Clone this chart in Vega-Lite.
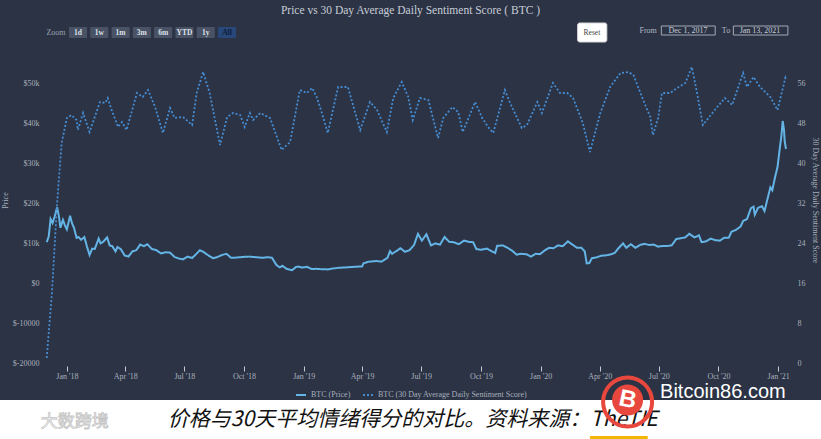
{
"$schema": "https://vega.github.io/schema/vega-lite/v6.json",
"width": 821,
"height": 400,
"autosize": {"type": "none"},
"padding": {"left": 0, "top": 0, "right": 0, "bottom": 39},
"background": "#ffffff",
"config": {"view": {"fill": "#2b3345", "stroke": null}},
"title": {"text": "Price vs 30 Day Average Daily Sentiment Score ( BTC )", "anchor": "middle", "frame": "group", "offset": -16, "font": "Liberation Serif", "fontSize": 11.5, "fontWeight": "normal", "color": "#c8cdd6"},
"datasets": {
"price": [
{"date":"2017-12-01","price":10200},{"date":"2017-12-04","price":11600},{"date":"2017-12-07","price":16000},{"date":"2017-12-10","price":15000},{"date":"2017-12-13","price":16500},{"date":"2017-12-17","price":18900},{"date":"2017-12-20","price":16500},{"date":"2017-12-22","price":13800},{"date":"2017-12-26","price":15800},{"date":"2017-12-29","price":14400},
{"date":"2018-01-01","price":13400},{"date":"2018-01-06","price":16800},{"date":"2018-01-09","price":14900},{"date":"2018-01-12","price":13800},{"date":"2018-01-16","price":11300},{"date":"2018-01-19","price":11500},{"date":"2018-01-23","price":10800},{"date":"2018-01-28","price":11500},
{"date":"2018-02-01","price":9100},{"date":"2018-02-05","price":7000},{"date":"2018-02-09","price":8600},{"date":"2018-02-13","price":8500},{"date":"2018-02-19","price":11100},{"date":"2018-02-22","price":9900},{"date":"2018-02-26","price":10300},
{"date":"2018-03-04","price":11400},{"date":"2018-03-08","price":9400},{"date":"2018-03-12","price":9200},{"date":"2018-03-17","price":7900},{"date":"2018-03-20","price":9000},{"date":"2018-03-25","price":8500},{"date":"2018-03-31","price":6900},
{"date":"2018-04-06","price":6600},{"date":"2018-04-12","price":7900},{"date":"2018-04-18","price":8200},{"date":"2018-04-24","price":9600},{"date":"2018-04-30","price":9200},
{"date":"2018-05-05","price":9700},{"date":"2018-05-12","price":8500},{"date":"2018-05-19","price":8200},{"date":"2018-05-26","price":7400},
{"date":"2018-06-02","price":7700},{"date":"2018-06-09","price":7600},{"date":"2018-06-16","price":6500},{"date":"2018-06-23","price":6100},{"date":"2018-06-29","price":5900},
{"date":"2018-07-06","price":6600},{"date":"2018-07-13","price":6250},{"date":"2018-07-20","price":7350},{"date":"2018-07-25","price":8200},{"date":"2018-07-31","price":7700},
{"date":"2018-08-07","price":6900},{"date":"2018-08-14","price":6200},{"date":"2018-08-21","price":6500},{"date":"2018-08-28","price":7000},
{"date":"2018-09-04","price":7300},{"date":"2018-09-11","price":6300},{"date":"2018-09-18","price":6350},{"date":"2018-09-25","price":6450},
{"date":"2018-10-02","price":6550},{"date":"2018-10-09","price":6600},{"date":"2018-10-16","price":6500},{"date":"2018-10-23","price":6400},{"date":"2018-10-30","price":6300},
{"date":"2018-11-06","price":6450},{"date":"2018-11-13","price":6300},{"date":"2018-11-20","price":4500},{"date":"2018-11-25","price":3900},{"date":"2018-11-29","price":4300},
{"date":"2018-12-06","price":3500},{"date":"2018-12-14","price":3200},{"date":"2018-12-20","price":4000},{"date":"2018-12-24","price":4100},{"date":"2018-12-30","price":3850},
{"date":"2019-01-06","price":4050},{"date":"2019-01-13","price":3500},{"date":"2019-01-20","price":3550},{"date":"2019-01-28","price":3450},
{"date":"2019-02-07","price":3400},{"date":"2019-02-14","price":3600},{"date":"2019-02-24","price":3800},
{"date":"2019-03-07","price":3900},{"date":"2019-03-20","price":4050},{"date":"2019-04-01","price":4150},{"date":"2019-04-03","price":4900},{"date":"2019-04-10","price":5300},{"date":"2019-04-23","price":5500},
{"date":"2019-05-01","price":5350},{"date":"2019-05-10","price":6300},{"date":"2019-05-14","price":8000},{"date":"2019-05-17","price":7300},{"date":"2019-05-24","price":8000},{"date":"2019-05-30","price":8700},
{"date":"2019-06-06","price":7800},{"date":"2019-06-13","price":8200},{"date":"2019-06-20","price":9500},{"date":"2019-06-26","price":12300},
{"date":"2019-07-02","price":10600},{"date":"2019-07-09","price":12200},{"date":"2019-07-16","price":9400},{"date":"2019-07-23","price":9900},{"date":"2019-07-30","price":9600},
{"date":"2019-08-06","price":11500},{"date":"2019-08-13","price":10300},{"date":"2019-08-20","price":10200},{"date":"2019-08-28","price":9700},
{"date":"2019-09-05","price":10600},{"date":"2019-09-12","price":10300},{"date":"2019-09-19","price":10200},{"date":"2019-09-24","price":8500},
{"date":"2019-10-01","price":8300},{"date":"2019-10-10","price":8600},{"date":"2019-10-17","price":8000},{"date":"2019-10-23","price":7500},{"date":"2019-10-26","price":9300},
{"date":"2019-11-04","price":9400},{"date":"2019-11-11","price":8800},{"date":"2019-11-18","price":8100},{"date":"2019-11-25","price":7100},
{"date":"2019-12-02","price":7300},{"date":"2019-12-10","price":7200},{"date":"2019-12-17","price":6600},{"date":"2019-12-24","price":7300},{"date":"2019-12-31","price":7200},
{"date":"2020-01-07","price":8100},{"date":"2020-01-14","price":8800},{"date":"2020-01-21","price":8700},{"date":"2020-01-28","price":9400},
{"date":"2020-02-04","price":9200},{"date":"2020-02-12","price":10400},{"date":"2020-02-19","price":9600},{"date":"2020-02-26","price":8800},
{"date":"2020-03-04","price":8800},{"date":"2020-03-09","price":7900},{"date":"2020-03-12","price":4900},{"date":"2020-03-16","price":5000},{"date":"2020-03-20","price":6200},{"date":"2020-03-27","price":6400},
{"date":"2020-04-03","price":6800},{"date":"2020-04-10","price":6900},{"date":"2020-04-17","price":7100},{"date":"2020-04-24","price":7500},{"date":"2020-04-30","price":8700},
{"date":"2020-05-07","price":9900},{"date":"2020-05-12","price":8800},{"date":"2020-05-19","price":9700},{"date":"2020-05-26","price":8800},
{"date":"2020-06-02","price":9500},{"date":"2020-06-09","price":9800},{"date":"2020-06-16","price":9500},{"date":"2020-06-23","price":9600},{"date":"2020-06-30","price":9100},
{"date":"2020-07-07","price":9250},{"date":"2020-07-14","price":9250},{"date":"2020-07-21","price":9400},{"date":"2020-07-28","price":11000},
{"date":"2020-08-04","price":11200},{"date":"2020-08-11","price":11400},{"date":"2020-08-17","price":12300},{"date":"2020-08-25","price":11400},
{"date":"2020-09-01","price":11900},{"date":"2020-09-05","price":10200},{"date":"2020-09-12","price":10400},{"date":"2020-09-19","price":11100},{"date":"2020-09-26","price":10700},
{"date":"2020-10-03","price":10600},{"date":"2020-10-10","price":11300},{"date":"2020-10-17","price":11350},{"date":"2020-10-21","price":12800},{"date":"2020-10-28","price":13300},
{"date":"2020-11-04","price":14100},{"date":"2020-11-08","price":15500},{"date":"2020-11-14","price":16000},{"date":"2020-11-20","price":18700},{"date":"2020-11-24","price":19100},{"date":"2020-11-26","price":17100},
{"date":"2020-12-01","price":18800},{"date":"2020-12-07","price":19200},{"date":"2020-12-11","price":18000},{"date":"2020-12-16","price":21300},{"date":"2020-12-20","price":23900},{"date":"2020-12-23","price":23200},{"date":"2020-12-27","price":26300},{"date":"2020-12-31","price":29000},
{"date":"2021-01-03","price":33000},{"date":"2021-01-06","price":36800},{"date":"2021-01-08","price":40500},{"date":"2021-01-10","price":38300},{"date":"2021-01-11","price":35500},{"date":"2021-01-12","price":34500},{"date":"2021-01-13","price":33500}
],
"senti": [
{"date":"2017-12-01","score":1},{"date":"2017-12-09","score":14},{"date":"2017-12-17","score":32},{"date":"2017-12-24","score":44},{"date":"2018-01-01","score":49},
{"date":"2018-01-08","score":49.6},{"date":"2018-01-16","score":48.6},{"date":"2018-01-18","score":46.6},{"date":"2018-01-26","score":50},{"date":"2018-02-05","score":46.2},
{"date":"2018-02-21","score":52.2},{"date":"2018-03-01","score":52},{"date":"2018-03-05","score":53},{"date":"2018-03-11","score":50.6},{"date":"2018-03-21","score":47.2},
{"date":"2018-03-27","score":48.2},{"date":"2018-04-03","score":46.6},{"date":"2018-04-19","score":54},{"date":"2018-04-28","score":53.2},{"date":"2018-05-06","score":54.6},
{"date":"2018-05-17","score":51.2},{"date":"2018-05-29","score":46},{"date":"2018-06-09","score":51},{"date":"2018-06-16","score":49},{"date":"2018-06-29","score":49.2},
{"date":"2018-07-13","score":47.6},{"date":"2018-07-20","score":54},{"date":"2018-07-30","score":58.2},{"date":"2018-08-09","score":54},{"date":"2018-08-25","score":43.6},
{"date":"2018-09-05","score":49.2},{"date":"2018-09-14","score":50},{"date":"2018-09-25","score":49.6},{"date":"2018-10-02","score":47.2},{"date":"2018-10-10","score":50},
{"date":"2018-10-15","score":48.6},{"date":"2018-10-26","score":50},{"date":"2018-11-10","score":49},{"date":"2018-11-28","score":42.6},{"date":"2018-12-06","score":43.6},
{"date":"2018-12-11","score":44.2},{"date":"2018-12-26","score":54.6},{"date":"2019-01-06","score":54},{"date":"2019-01-14","score":55},{"date":"2019-01-21","score":53.2},
{"date":"2019-01-29","score":50},{"date":"2019-02-07","score":46},{"date":"2019-02-23","score":55.2},{"date":"2019-03-10","score":55.2},{"date":"2019-03-21","score":50.2},
{"date":"2019-03-29","score":46.6},{"date":"2019-04-13","score":52.2},{"date":"2019-04-24","score":50.6},{"date":"2019-05-09","score":46.2},{"date":"2019-05-19","score":53},
{"date":"2019-06-01","score":56.2},{"date":"2019-06-11","score":53.2},{"date":"2019-06-18","score":48.6},{"date":"2019-06-29","score":53},{"date":"2019-07-12","score":52.6},
{"date":"2019-07-27","score":45},{"date":"2019-08-04","score":49},{"date":"2019-08-18","score":51.2},{"date":"2019-08-27","score":50.2},{"date":"2019-09-03","score":46.2},
{"date":"2019-09-22","score":52.2},{"date":"2019-10-03","score":49},{"date":"2019-10-12","score":47.2},{"date":"2019-10-20","score":46},{"date":"2019-11-07","score":54.6},
{"date":"2019-11-15","score":52},{"date":"2019-12-03","score":47},{"date":"2019-12-11","score":47.6},{"date":"2019-12-27","score":52.2},{"date":"2020-01-03","score":50},
{"date":"2020-01-20","score":56},{"date":"2020-01-31","score":54},{"date":"2020-02-11","score":54},{"date":"2020-02-20","score":53},{"date":"2020-03-06","score":48},
{"date":"2020-03-17","score":42.2},{"date":"2020-04-02","score":50},{"date":"2020-04-17","score":55.2},{"date":"2020-05-03","score":58},{"date":"2020-05-15","score":58.2},
{"date":"2020-05-23","score":57.6},{"date":"2020-06-07","score":52.6},{"date":"2020-06-18","score":49.2},{"date":"2020-06-22","score":45.6},{"date":"2020-06-30","score":49},
{"date":"2020-07-06","score":54},{"date":"2020-07-19","score":54},{"date":"2020-07-29","score":55},{"date":"2020-08-11","score":56},{"date":"2020-08-21","score":59.2},
{"date":"2020-08-29","score":54},{"date":"2020-09-07","score":47.6},{"date":"2020-09-29","score":51.2},{"date":"2020-10-11","score":53},{"date":"2020-10-22","score":51.6},
{"date":"2020-11-08","score":58},{"date":"2020-11-14","score":55.2},{"date":"2020-11-24","score":57.2},{"date":"2020-12-04","score":55.2},{"date":"2020-12-20","score":53.2},
{"date":"2020-12-31","score":50.6},{"date":"2021-01-12","score":57},{"date":"2021-01-13","score":56.6}
],
"buttons": [{"label":"1d"},{"label":"1w"},{"label":"1m"},{"label":"3m"},{"label":"6m"},{"label":"YTD"},{"label":"1y"},{"label":"All"}]
},
"layer": [
{
"layer": [
{
"layer": [
{
"data": {"name": "price"},
"mark": {"type": "line", "strokeWidth": 2},
"encoding": {
"x": {"field": "date", "type": "temporal", "scale": {"type": "utc", "domain": [{"year":2017,"month":9,"date":20,"utc":true},{"year":2021,"month":3,"date":8,"utc":true}]},
"axis": {"orient": "bottom", "offset": -34, "title": null, "format": "%b '%y", "values": [{"year":2018,"month":1,"date":1,"utc":true},{"year":2018,"month":4,"date":1,"utc":true},{"year":2018,"month":7,"date":1,"utc":true},{"year":2018,"month":10,"date":1,"utc":true},{"year":2019,"month":1,"date":1,"utc":true},{"year":2019,"month":4,"date":1,"utc":true},{"year":2019,"month":7,"date":1,"utc":true},{"year":2019,"month":10,"date":1,"utc":true},{"year":2020,"month":1,"date":1,"utc":true},{"year":2020,"month":4,"date":1,"utc":true},{"year":2020,"month":7,"date":1,"utc":true},{"year":2020,"month":10,"date":1,"utc":true},{"year":2021,"month":1,"date":1,"utc":true}],
"domain": false, "grid": false, "ticks": true, "tickSize": 5, "tickColor": "#c5cbd6", "tickWidth": 1, "labelPadding": 1, "labelFont": "Liberation Serif", "labelFontSize": 8, "labelColor": "#a9b0bc", "labelFlush": false}},
"y": {"field": "price", "type": "quantitative", "scale": {"domain": [-29250, 70750], "nice": false, "zero": false},
"axis": {"orient": "left", "offset": -47, "values": [-20000,-10000,0,10000,20000,30000,40000,50000], "labelExpr": "datum.value > 0 ? '$' + datum.value/1000 + 'k' : '$' + datum.value", "domain": false, "ticks": false, "grid": false, "labelPadding": 8, "labelFont": "Liberation Serif", "labelFontSize": 8, "labelColor": "#a9b0bc", "title": "Price", "titleFont": "Liberation Serif", "titleFontSize": 8, "titleFontWeight": "normal", "titleColor": "#a9b0bc", "titlePadding": 3}},
"color": {"datum": "BTC (Price)", "type": "nominal", "scale": {"domain": ["BTC (Price)", "BTC (30 Day Average Daily Sentiment Score)"], "range": ["#64b4e6", "#468cd2"]},
"legend": {"title": null, "orient": "none", "legendX": 295, "legendY": 389, "direction": "horizontal", "symbolType": "stroke", "symbolStrokeWidth": 2, "symbolSize": 100, "labelFont": "Liberation Serif", "labelFontSize": 8, "labelColor": "#a9b0bc", "columnPadding": 8, "padding": 0}},
"strokeDash": {"datum": "BTC (Price)", "type": "nominal", "scale": {"domain": ["BTC (Price)", "BTC (30 Day Average Daily Sentiment Score)"], "range": [[1,0],[2,2]]},
"legend": {"title": null, "orient": "none", "legendX": 295, "legendY": 389, "direction": "horizontal", "symbolType": "stroke", "symbolStrokeWidth": 2, "symbolSize": 100, "labelFont": "Liberation Serif", "labelFontSize": 8, "labelColor": "#a9b0bc", "columnPadding": 8, "padding": 0}}
}
},
{
"data": {"values": [{"t": "Zoom"}]},
"mark": {"type": "text", "align": "right", "baseline": "middle", "font": "Liberation Serif", "fontSize": 8, "color": "#9da4b0"},
"encoding": {"x": {"datum": {"year":2017,"month":12,"date":30,"utc":true}, "type": "temporal"}, "y": {"datum": 62625, "type": "quantitative"}, "text": {"field": "t"}}
},
{
"data": {"values": [{}]},
"mark": {"type": "rect", "fill": "#ffffff", "stroke": "#d8d8d8", "cornerRadius": 2},
"encoding": {"x": {"datum": {"year":2020,"month":2,"date":27,"utc":true}, "type": "temporal"}, "x2": {"datum": {"year":2020,"month":4,"date":12,"utc":true}}, "y": {"datum": 65000, "type": "quantitative"}, "y2": {"datum": 60250}}
},
{
"data": {"values": [{"t": "Reset"}]},
"mark": {"type": "text", "align": "center", "baseline": "middle", "font": "Liberation Serif", "fontSize": 7.5, "color": "#444444"},
"encoding": {"x": {"datum": {"year":2020,"month":3,"date":20,"utc":true}, "type": "temporal"}, "y": {"datum": 62625, "type": "quantitative"}, "text": {"field": "t"}}
},
{
"data": {"values": [{"t": "From"}]},
"mark": {"type": "text", "align": "right", "baseline": "middle", "font": "Liberation Serif", "fontSize": 8, "color": "#b4bac5"},
"encoding": {"x": {"datum": {"year":2020,"month":6,"date":28,"utc":true}, "type": "temporal"}, "y": {"datum": 63125, "type": "quantitative"}, "text": {"field": "t"}}
},
{
"data": {"values": [{}]},
"mark": {"type": "rect", "fill": null, "fillOpacity": 0, "stroke": "#a3a9b4", "strokeWidth": 1},
"encoding": {"x": {"datum": {"year":2020,"month":7,"date":5,"utc":true}, "type": "temporal"}, "x2": {"datum": {"year":2020,"month":9,"date":26,"utc":true}}, "y": {"datum": 64250, "type": "quantitative"}, "y2": {"datum": 62000}}
},
{
"data": {"values": [{"t": "Dec 1, 2017"}]},
"mark": {"type": "text", "align": "center", "baseline": "middle", "font": "Liberation Serif", "fontSize": 8, "color": "#c8cdd6"},
"encoding": {"x": {"datum": {"year":2020,"month":8,"date":15,"utc":true}, "type": "temporal"}, "y": {"datum": 63125, "type": "quantitative"}, "text": {"field": "t"}}
},
{
"data": {"values": [{"t": "To"}]},
"mark": {"type": "text", "align": "right", "baseline": "middle", "font": "Liberation Serif", "fontSize": 8, "color": "#b4bac5"},
"encoding": {"x": {"datum": {"year":2020,"month":10,"date":19,"utc":true}, "type": "temporal"}, "y": {"datum": 63125, "type": "quantitative"}, "text": {"field": "t"}}
},
{
"data": {"values": [{}]},
"mark": {"type": "rect", "fill": null, "fillOpacity": 0, "stroke": "#a3a9b4", "strokeWidth": 1},
"encoding": {"x": {"datum": {"year":2020,"month":10,"date":24,"utc":true}, "type": "temporal"}, "x2": {"datum": {"year":2021,"month":1,"date":16,"utc":true}}, "y": {"datum": 64250, "type": "quantitative"}, "y2": {"datum": 62000}}
},
{
"data": {"values": [{"t": "Jan 13, 2021"}]},
"mark": {"type": "text", "align": "center", "baseline": "middle", "font": "Liberation Serif", "fontSize": 8, "color": "#c8cdd6"},
"encoding": {"x": {"datum": {"year":2020,"month":12,"date":4,"utc":true}, "type": "temporal"}, "y": {"datum": 63125, "type": "quantitative"}, "text": {"field": "t"}}
},
{
"data": {"values": [{"t": "价格与30天平均情绪得分的对比。资料来源：TheTIE"}]},
"mark": {"type": "text", "align": "center", "baseline": "middle", "font": "Noto Sans CJK SC", "fontSize": 21, "fontStyle": "italic", "color": "#111111"},
"encoding": {"x": {"datum": {"year":2019,"month":6,"date":18,"utc":true}, "type": "temporal"}, "y": {"datum": -34250, "type": "quantitative"}, "text": {"field": "t"}}
},
{
"data": {"values": [{}]},
"mark": {"type": "rule", "color": "#f2b705", "strokeWidth": 3},
"encoding": {"x": {"datum": {"year":2020,"month":3,"date":17,"utc":true}, "type": "temporal"}, "x2": {"datum": {"year":2020,"month":6,"date":14,"utc":true}}, "y": {"datum": -38625, "type": "quantitative"}}
},
{
"data": {"values": [{"t": "大数跨境"}]},
"mark": {"type": "text", "align": "center", "baseline": "middle", "font": "Noto Sans CJK SC", "fontSize": 17, "fill": "#ffffff", "stroke": "#c4c4c4", "strokeWidth": 0.8},
"encoding": {"x": {"datum": {"year":2018,"month":1,"date":13,"utc":true}, "type": "temporal"}, "y": {"datum": -34750, "type": "quantitative"}, "text": {"field": "t"}}
},
{
"data": {"values": [{"t": "Bitcoin86.com"}]},
"mark": {"type": "text", "align": "left", "baseline": "middle", "font": "Liberation Sans", "fontSize": 20, "color": "#ffffff"},
"encoding": {"x": {"datum": {"year":2020,"month":7,"date":3,"utc":true}, "type": "temporal"}, "y": {"datum": -27250, "type": "quantitative"}, "text": {"field": "t"}}
},
{
"data": {"values": [{}]},
"mark": {"type": "point", "shape": "circle", "size": 2400, "filled": false, "stroke": "#e8473d", "strokeWidth": 4, "opacity": 1},
"encoding": {"x": {"datum": {"year":2020,"month":5,"date":14,"utc":true}, "type": "temporal"}, "y": {"datum": -29750, "type": "quantitative"}}
},
{
"data": {"values": [{}]},
"mark": {"type": "point", "shape": "circle", "size": 960, "filled": true, "fill": "#e8473d", "opacity": 1},
"encoding": {"x": {"datum": {"year":2020,"month":5,"date":14,"utc":true}, "type": "temporal"}, "y": {"datum": -29250, "type": "quantitative"}}
},
{
"data": {"values": [{"t": "B"}]},
"mark": {"type": "text", "align": "center", "baseline": "middle", "font": "Liberation Sans", "fontSize": 24, "fontWeight": "bold", "color": "#ffffff", "angle": 12},
"encoding": {"x": {"datum": {"year":2020,"month":5,"date":14,"utc":true}, "type": "temporal"}, "y": {"datum": -29250, "type": "quantitative"}, "text": {"field": "t"}}
}
]
},
{
"data": {"name": "buttons"},
"layer": [
{
"mark": {"type": "rect", "cornerRadius": 1},
"encoding": {
"x": {"field": "label", "type": "nominal", "scale": {"type": "band", "domain": ["1d","1w","1m","3m","6m","YTD","1y","All"], "range": [69, 236], "paddingInner": 0.15, "paddingOuter": 0}, "axis": null},
"y": {"datum": 64000, "type": "quantitative"},
"y2": {"datum": 61250},
"fill": {"condition": {"test": "datum.label === 'All'", "value": "#28477a"}, "value": "#4a5366"}
}
},
{
"mark": {"type": "text", "font": "Liberation Serif", "fontSize": 7.5, "fontWeight": "bold", "baseline": "middle", "align": "center"},
"encoding": {
"x": {"field": "label", "type": "nominal", "scale": {"type": "band", "domain": ["1d","1w","1m","3m","6m","YTD","1y","All"], "range": [69, 236], "paddingInner": 0.15, "paddingOuter": 0}, "axis": null},
"y": {"datum": 62625, "type": "quantitative"},
"text": {"field": "label"},
"color": {"condition": {"test": "datum.label === 'All'", "value": "#0d1d36"}, "value": "#dde1e8"}
}
}
]
}
],
"resolve": {"scale": {"x": "independent"}}
},
{
"data": {"name": "senti"},
"mark": {"type": "line", "strokeWidth": 1.8},
"encoding": {
"x": {"field": "date", "type": "temporal", "scale": {"type": "utc", "domain": [{"year":2017,"month":9,"date":20,"utc":true},{"year":2021,"month":3,"date":8,"utc":true}]}, "axis": null},
"y": {"field": "score", "type": "quantitative", "scale": {"domain": [-7.4, 72.6], "nice": false, "zero": false},
"axis": {"orient": "right", "offset": -32, "values": [0,8,16,24,32,40,48,56], "domain": false, "ticks": false, "grid": false, "labelPadding": 8, "labelFont": "Liberation Serif", "labelFontSize": 8, "labelColor": "#a9b0bc", "title": "30 Day Average Daily Sentiment Score", "titleFont": "Liberation Serif", "titleFontSize": 8, "titleFontWeight": "normal", "titleColor": "#a9b0bc", "titlePadding": 5}},
"color": {"datum": "BTC (30 Day Average Daily Sentiment Score)", "type": "nominal"},
"strokeDash": {"datum": "BTC (30 Day Average Daily Sentiment Score)", "type": "nominal"}
}
}
],
"resolve": {"scale": {"x": "independent", "y": "independent"}}
}
